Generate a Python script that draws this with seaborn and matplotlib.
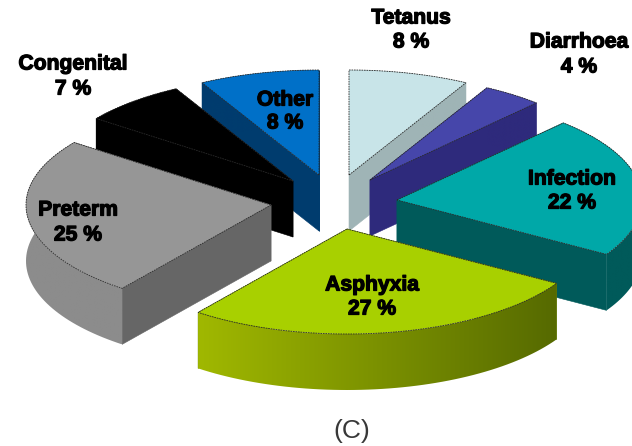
import numpy as np
import matplotlib
matplotlib.use("Agg")
import matplotlib.pyplot as plt
import matplotlib.patheffects as pe
from matplotlib.colors import to_rgb
from matplotlib.patches import Polygon
import seaborn as sns

# Share of neonatal deaths by cause, clockwise from twelve o'clock
causes = ["Tetanus", "Diarrhoea", "Infection", "Asphyxia", "Preterm", "Congenital", "Other"]
percent = [8, 4, 22, 27, 25, 7, 8]
labels_shown = ["Tetanus", "Diarrhoea", "Infection", "Asphyxia", "Preterm", "Congenital", "Other"]
caption = "(C)"

# Projection of the tilted disc, in pixels
RX, RY, DEPTH = 245, 105, 56

# Where the tip of each exploded slice ends up
tips = {
    "Tetanus": (349, 175), "Diarrhoea": (370, 180), "Infection": (397, 200),
    "Asphyxia": (347, 229), "Preterm": (271, 205), "Congenital": (293, 181),
    "Other": (319, 175),
}
top_colors = {
    "Tetanus": "#c8e4e8", "Diarrhoea": "#4646aa", "Infection": "#00a8a8",
    "Asphyxia": "#a8d000", "Preterm": "#969696", "Congenital": "#000000",
    "Other": "#0070c8",
}
cut_colors = {
    "Tetanus": "#9fb4b6", "Diarrhoea": "#2e2a7c", "Infection": "#005a5a",
    "Asphyxia": "#6a8200", "Preterm": "#666666", "Congenital": "#000000",
    "Other": "#003c6e",
}
rim_colors = {
    "Tetanus": ("#9fb4b6", "#9fb4b6"), "Diarrhoea": ("#2e2a7c", "#2e2a7c"),
    "Infection": ("#005a5a", "#005a5a"), "Asphyxia": ("#a0b800", "#566a00"),
    "Preterm": ("#8c8c8c", "#8c8c8c"), "Congenital": ("#000000", "#000000"),
    "Other": ("#003c6e", "#003c6e"),
}
# Label centres as (x, y of name, y of value)
label_pos = {
    "Tetanus": (411, 18, 42), "Diarrhoea": (579, 42, 67), "Infection": (572, 179, 203),
    "Asphyxia": (372, 285, 309), "Preterm": (78, 210, 235), "Congenital": (73, 64, 89),
    "Other": (285, 100, 123),
}
draw_order = ["Other", "Tetanus", "Diarrhoea", "Congenital", "Preterm", "Infection", "Asphyxia"]

sns.set_theme(style="white")
plt.rcParams["font.family"] = ["Liberation Sans", "DejaVu Sans"]
palette = dict(zip(causes, sns.color_palette([top_colors[c] for c in causes])))

fig = plt.figure(figsize=(6.32, 4.46), dpi=100, facecolor="white")
ax = fig.add_axes([0, 0, 1, 1])
ax.set_axis_off()

edges = np.concatenate([[0], np.cumsum(percent)]) / sum(percent) * 2 * np.pi
spans = {c: (edges[i], edges[i + 1]) for i, c in enumerate(causes)}


def rim_points(cause):
    """Outer arc of one slice on the tilted disc."""
    a0, a1 = spans[cause]
    t = np.linspace(a0, a1, 60)
    tx, ty = tips[cause]
    return np.column_stack([tx + RX * np.sin(t), ty - RY * np.cos(t)])


def extrude(points):
    lowered = points + [0, DEPTH]
    return np.vstack([points, lowered[::-1]])


def gradient_fill(poly_xy, left, right, zorder):
    """Horizontal colour ramp clipped to a polygon."""
    patch = Polygon(poly_xy, closed=True, fc="none", ec="none", zorder=zorder)
    ax.add_patch(patch)
    x0, x1 = poly_xy[:, 0].min(), poly_xy[:, 0].max()
    y0, y1 = poly_xy[:, 1].min(), poly_xy[:, 1].max()
    ramp = np.linspace(0, 1, 128)[None, :, None]
    rgb = (1 - ramp) * np.array(to_rgb(left)) + ramp * np.array(to_rgb(right))
    im = ax.imshow(rgb, extent=(x0, x1, y1, y0), aspect="auto", zorder=zorder, interpolation="bilinear")
    im.set_clip_path(patch)


for z, cause in enumerate(draw_order):
    base = 10 * (z + 1)
    tip = np.array(tips[cause], dtype=float)
    rim = rim_points(cause)
    for end in (rim[0], rim[-1]):
        face = extrude(np.array([tip, end]))
        ax.add_patch(Polygon(face, closed=True, fc=cut_colors[cause], ec=cut_colors[cause], lw=0.4, zorder=base))
    left, right = rim_colors[cause]
    gradient_fill(extrude(rim), left, right, base + 1)
    ax.add_patch(Polygon(np.vstack([tip, rim]), closed=True, fc=palette[cause],
                         ec="#2a2a2a", lw=0.6, ls=(0, (2, 1)), zorder=base + 2))

ax.set_xlim(0, 632)
ax.set_ylim(446, 0)

halo = [pe.withStroke(linewidth=0.9, foreground="black")]
for cause, name, value in zip(causes, labels_shown, percent):
    x, y_name, y_value = label_pos[cause]
    for text, y in ((name, y_name), (f"{value} %", y_value)):
        ax.text(x, y, text, ha="center", va="center", fontsize=15.2, fontweight="bold",
                color="black", path_effects=halo, zorder=200)

ax.text(352, 431, caption, ha="center", va="center", fontsize=19, color="#383838", zorder=200)

fig.savefig("out.png", dpi=100, facecolor="white")
